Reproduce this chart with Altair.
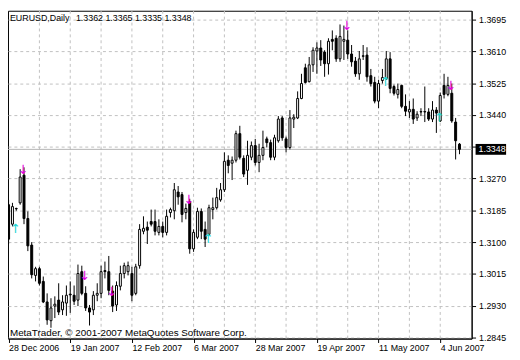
import altair as alt
import pandas as pd

# ---- data (EURUSD daily candles, 28 Dec 2006 .. 11 Jun 2007) ----
opens = [1.3200, 1.3148, 1.3190, 1.3205, 1.3279, 1.3163, 1.3092, 1.3011, 1.3029, 1.2995,
         1.2940, 1.2890, 1.2929, 1.2945, 1.2919, 1.2937, 1.2961, 1.2958, 1.2945, 1.3021,
         1.2963, 1.2924, 1.2919, 1.2958, 1.2963, 1.3024, 1.3021, 1.2969, 1.2932, 1.2982,
         1.3016, 1.3021, 1.3016, 1.2963, 1.3037, 1.3129, 1.3140, 1.3155, 1.3155, 1.3126,
         1.3142, 1.3126, 1.3179, 1.3184, 1.3234, 1.3227, 1.3179, 1.3208, 1.3082, 1.3113,
         1.3182, 1.3134, 1.3121, 1.3187, 1.3192, 1.3213, 1.3240, 1.3319, 1.3311, 1.3319,
         1.3390, 1.3324, 1.3292, 1.3327, 1.3358, 1.3313, 1.3332, 1.3376, 1.3366, 1.3327,
         1.3371, 1.3432, 1.3376, 1.3353, 1.3429, 1.3432, 1.3484, 1.3566, 1.3529, 1.3574,
         1.3611, 1.3619, 1.3608, 1.3577, 1.3642, 1.3645, 1.3590, 1.3637, 1.3640, 1.3603,
         1.3584, 1.3550, 1.3598, 1.3600, 1.3545, 1.3527, 1.3477, 1.3532, 1.3537, 1.3590,
         1.3516, 1.3495, 1.3519, 1.3463, 1.3448, 1.3455, 1.3432, 1.3449, 1.3449, 1.3448,
         1.3429, 1.3453, 1.3424, 1.3519, 1.3495, 1.3498, 1.3421, 1.3362]
highs = [1.3213, 1.3205, 1.3192, 1.3295, 1.3300, 1.3182, 1.3100, 1.3034, 1.3034, 1.3008,
         1.2963, 1.2950, 1.2955, 1.2990, 1.2958, 1.2984, 1.2995, 1.2984, 1.3040, 1.3037,
         1.2982, 1.2932, 1.2969, 1.2990, 1.3037, 1.3048, 1.3063, 1.2984, 1.2995, 1.3037,
         1.3045, 1.3048, 1.3034, 1.3042, 1.3148, 1.3169, 1.3155, 1.3187, 1.3187, 1.3161,
         1.3155, 1.3187, 1.3192, 1.3258, 1.3250, 1.3234, 1.3203, 1.3216, 1.3134, 1.3192,
         1.3190, 1.3155, 1.3200, 1.3219, 1.3245, 1.3258, 1.3340, 1.3332, 1.3329, 1.3398,
         1.3411, 1.3332, 1.3371, 1.3369, 1.3376, 1.3363, 1.3398, 1.3382, 1.3374, 1.3387,
         1.3437, 1.3437, 1.3382, 1.3453, 1.3442, 1.3503, 1.3550, 1.3577, 1.3595, 1.3621,
         1.3634, 1.3640, 1.3613, 1.3645, 1.3666, 1.3653, 1.3682, 1.3679, 1.3666, 1.3627,
         1.3595, 1.3611, 1.3627, 1.3621, 1.3563, 1.3542, 1.3534, 1.3563, 1.3611, 1.3608,
         1.3521, 1.3524, 1.3521, 1.3495, 1.3477, 1.3484, 1.3450, 1.3458, 1.3516, 1.3458,
         1.3477, 1.3461, 1.3500, 1.3550, 1.3542, 1.3524, 1.3432, 1.3365]
lows = [1.3095, 1.3142, 1.3184, 1.3200, 1.3148, 1.3076, 1.3003, 1.2995, 1.2984, 1.2937,
        1.2879, 1.2871, 1.2897, 1.2905, 1.2905, 1.2903, 1.2911, 1.2932, 1.2929, 1.2958,
        1.2916, 1.2877, 1.2905, 1.2942, 1.2950, 1.3003, 1.2958, 1.2913, 1.2916, 1.2971,
        1.3003, 1.3011, 1.2942, 1.2958, 1.3029, 1.3121, 1.3095, 1.3142, 1.3118, 1.3118,
        1.3113, 1.3118, 1.3166, 1.3161, 1.3200, 1.3153, 1.3161, 1.3069, 1.3074, 1.3108,
        1.3108, 1.3087, 1.3118, 1.3161, 1.3187, 1.3208, 1.3234, 1.3284, 1.3266, 1.3313,
        1.3321, 1.3274, 1.3253, 1.3319, 1.3305, 1.3287, 1.3319, 1.3353, 1.3319, 1.3319,
        1.3366, 1.3371, 1.3340, 1.3348, 1.3405, 1.3429, 1.3482, 1.3524, 1.3527, 1.3555,
        1.3550, 1.3571, 1.3542, 1.3548, 1.3613, 1.3582, 1.3582, 1.3587, 1.3590, 1.3569,
        1.3542, 1.3534, 1.3587, 1.3529, 1.3516, 1.3471, 1.3458, 1.3524, 1.3534, 1.3498,
        1.3492, 1.3484, 1.3458, 1.3437, 1.3432, 1.3416, 1.3424, 1.3437, 1.3421, 1.3424,
        1.3421, 1.3392, 1.3421, 1.3484, 1.3490, 1.3419, 1.3321, 1.3335]
closes = [1.3108, 1.3195, 1.3189, 1.3274, 1.3163, 1.3090, 1.3013, 1.3029, 1.2990, 1.2940,
          1.2892, 1.2924, 1.2934, 1.2913, 1.2940, 1.2958, 1.2959, 1.2942, 1.3016, 1.2963,
          1.2924, 1.2913, 1.2958, 1.2963, 1.3021, 1.3021, 1.2971, 1.2929, 1.2984, 1.3016,
          1.3037, 1.3037, 1.2958, 1.3034, 1.3134, 1.3137, 1.3132, 1.3148, 1.3129, 1.3142,
          1.3126, 1.3169, 1.3187, 1.3240, 1.3221, 1.3174, 1.3190, 1.3082, 1.3126, 1.3182,
          1.3129, 1.3108, 1.3192, 1.3192, 1.3219, 1.3240, 1.3316, 1.3305, 1.3319, 1.3390,
          1.3327, 1.3282, 1.3332, 1.3358, 1.3313, 1.3332, 1.3353, 1.3366, 1.3327, 1.3379,
          1.3429, 1.3379, 1.3353, 1.3432, 1.3434, 1.3484, 1.3524, 1.3527, 1.3574, 1.3613,
          1.3619, 1.3587, 1.3577, 1.3637, 1.3637, 1.3590, 1.3650, 1.3642, 1.3603, 1.3582,
          1.3550, 1.3590, 1.3597, 1.3542, 1.3524, 1.3477, 1.3524, 1.3540, 1.3590, 1.3511,
          1.3498, 1.3508, 1.3463, 1.3450, 1.3455, 1.3429, 1.3442, 1.3448, 1.3448, 1.3429,
          1.3453, 1.3445, 1.3492, 1.3495, 1.3519, 1.3424, 1.3371, 1.3348]

tick_idx = [0, 16, 32, 48, 64, 80, 96, 112]
tick_labels = ["28 Dec 2006", "19 Jan 2007", "12 Feb 2007", "6 Mar 2007",
               "28 Mar 2007", "19 Apr 2007", "11 May 2007", "4 Jun 2007"]
grid_idx = [8, 16, 24, 32, 40, 48, 56, 64, 72, 80, 88, 96, 104, 112]
price_ticks = [1.2845, 1.2930, 1.3015, 1.3100, 1.3185, 1.3270, 1.3355,
               1.3440, 1.3525, 1.3610, 1.3695]

up_arrow_idx = [4, 20, 27, 47, 88, 115]
up_arrow_price = [1.3292, 1.3008, 1.2966, 1.3213, 1.3677, 1.3516]
down_arrow_idx = [2, 52, 98, 112]
down_arrow_price = [1.3134, 1.3108, 1.3527, 1.3432]

last_price = 1.3348
header_symbol = "EURUSD,Daily"
header_ohlc = "1.3362 1.3365 1.3335 1.3348"
footer_text = "MetaTrader, \u00a9 2001-2007 MetaQuotes Software Corp."

# ---- layout ----
W, H = 471, 333
X_DOM = [1.125, 118.875]
Y_DOM = [1.28422, 1.37186]
FONT = "Liberation Sans"
GRID = "#c0c0c0"

df = pd.DataFrame({"i": list(range(len(opens))), "open": opens, "high": highs,
                   "low": lows, "close": closes})

xscale = alt.Scale(domain=X_DOM, nice=False, zero=False)
yscale = alt.Scale(domain=Y_DOM, nice=False, zero=False)

labels_js = "[" + ",".join("'" + s + "'" for s in tick_labels) + "]"
idx_js = "[" + ",".join(str(v) for v in tick_idx) + "]"
xaxis = alt.Axis(values=tick_idx, labelExpr=f"{labels_js}[indexof({idx_js}, datum.value)]",
                 title=None, grid=False, labelAlign="left", labelBaseline="top",
                 labelPadding=1, tickSize=4, tickColor="black", domainColor="black",
                 labelFontSize=9, labelColor="black", labelFont=FONT,
                 labelOverlap=False, labelBound=False, labelFlush=False)
yaxis = alt.Axis(values=price_ticks, orient="right", title=None,
                 labelExpr="abs(datum.value - 1.3355) < 0.00001 ? '' : format(datum.value, '.4f')",
                 grid=True, gridColor=GRID, gridDash=[3, 3], gridWidth=1,
                 tickSize=4, tickColor="black", domainColor="black", labelPadding=3,
                 labelFontSize=9, labelColor="black", labelFont=FONT,
                 labelOverlap=False, labelBound=False, labelFlush=False)


def X(field):
    return alt.X(field, scale=xscale, axis=xaxis)


def Y(field):
    return alt.Y(field, scale=yscale, axis=yaxis)


vgrid = alt.Chart(pd.DataFrame({"g": grid_idx})).mark_rule(
    color=GRID, strokeDash=[3, 3], strokeWidth=1
).encode(x=X("g:Q"))

price_line = alt.Chart(pd.DataFrame({"p": [last_price]})).mark_rule(
    color="#b4b4b4", strokeWidth=1
).encode(y=Y("p:Q"))

wicks = alt.Chart(df).mark_rule(color="black", strokeWidth=1, clip=True).encode(
    x=X("i:Q"), y=Y("low:Q"), y2="high:Q")

bodies = alt.Chart(df).mark_bar(size=2, stroke="black", strokeWidth=1, orient="vertical",
                                clip=True).encode(
    x=X("i:Q"), y=Y("open:Q"), y2="close:Q",
    fill=alt.condition("datum.close >= datum.open", alt.value("white"), alt.value("black")))

up_arrows = alt.Chart(pd.DataFrame({"i": up_arrow_idx, "p": up_arrow_price})).mark_text(
    text="\u2193", color="#e000e0", fontSize=13, font="DejaVu Sans", baseline="middle", dx=-1
).encode(x=X("i:Q"), y=Y("p:Q"))

down_arrows = alt.Chart(pd.DataFrame({"i": down_arrow_idx, "p": down_arrow_price})).mark_text(
    text="\u2191", color="#22d4d4", fontSize=13, font="DejaVu Sans", baseline="middle", dx=-1
).encode(x=X("i:Q"), y=Y("p:Q"))

half = 5.5 * (Y_DOM[1] - Y_DOM[0]) / H
box = alt.Chart(pd.DataFrame({"p": [last_price]})).transform_calculate(
    top=f"datum.p + {half}", bot=f"datum.p - {half}"
).mark_rect(color="black").encode(
    x=alt.value(W + 4), x2=alt.value(W + 35), y=Y("top:Q"), y2="bot:Q")

box_text = alt.Chart(pd.DataFrame({"p": [last_price]})).mark_text(
    color="white", fontSize=9, font=FONT, align="left", baseline="middle"
).encode(x=alt.value(W + 7), y=Y("p:Q"), text=alt.Text("p:Q", format=".4f"))

head1 = alt.Chart(pd.DataFrame({"t": [header_symbol]})).mark_text(
    color="black", fontSize=9, font=FONT, align="left", baseline="alphabetic"
).encode(x=alt.value(2), y=alt.value(10), text="t:N")

head2 = alt.Chart(pd.DataFrame({"t": [header_ohlc]})).mark_text(
    color="black", fontSize=9, font=FONT, align="left", baseline="alphabetic"
).encode(x=alt.value(69), y=alt.value(10), text="t:N")

foot = alt.Chart(pd.DataFrame({"t": [footer_text]})).mark_text(
    color="black", fontSize=10, font=FONT, align="left", baseline="alphabetic"
).encode(x=alt.value(2), y=alt.value(330.5), text="t:N")

chart = alt.layer(
    vgrid, price_line, wicks, bodies, up_arrows, down_arrows, box, box_text, head1, head2, foot
).properties(
    width=W, height=H,
    autosize=alt.AutoSizeParams(type="none"),
    padding={"left": 0, "top": 0, "right": 41, "bottom": 19},
    background="white",
).configure_view(stroke="black", strokeWidth=1)

chart.save("out.html", embed_options={"renderer": "svg", "actions": False})
